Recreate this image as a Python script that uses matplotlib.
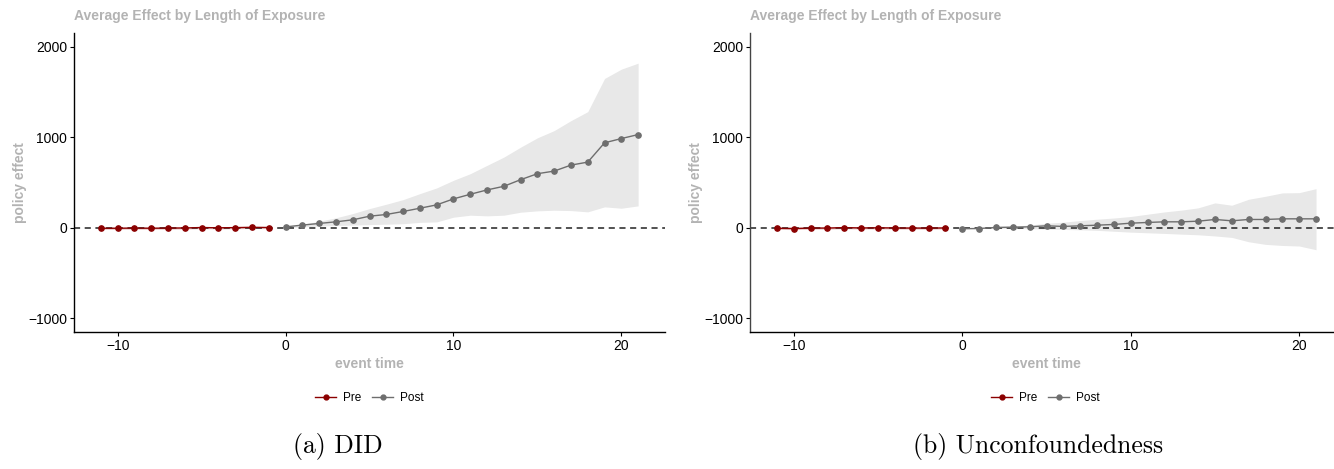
import numpy as np
import matplotlib
matplotlib.use("Agg")
import matplotlib.pyplot as plt
from matplotlib.lines import Line2D

plt.rcParams['font.family'] = ['Liberation Sans', 'DejaVu Sans']

# event times
pre_t = list(range(-11, 0))
post_t = list(range(0, 22))

# (a) DID
did_pre = [-5, -5, -3, -5, -3, -2, 3, 0, 2, 5, 3]
did_post = [10, 30, 48, 66, 88, 128, 147, 180, 216, 253, 319, 370, 418, 458,
            531, 597, 626, 692, 725, 938, 985, 1029]
did_hi = [12, 38, 72, 110, 157, 212, 260, 311, 377, 440, 524, 597, 689, 780,
          890, 993, 1073, 1183, 1282, 1648, 1751, 1817]
did_lo = [0, 10, 20, 25, 30, 35, 40, 45, 60, 65, 117, 139, 132, 139,
          172, 187, 194, 190, 176, 231, 216, 242]

# (b) Unconfoundedness
unc_pre = [-5, -8, -3, -3, 2, -2, 0, -2, -3, -3, -2]
unc_post = [-10, -8, 4, 7, 11, 22, 15, 22, 29, 37, 51, 59, 66, 66,
            73, 92, 77, 92, 92, 99, 99, 99]
unc_hi = [0, 5, 12, 20, 30, 50, 62, 80, 95, 108, 125, 150, 175, 195,
          220, 275, 249, 315, 348, 385, 388, 432]
unc_lo = [0, -3, -5, -8, -10, -15, -18, -22, -28, -38, -48, -55, -62, -70,
          -77, -90, -106, -154, -183, -195, -201, -242]

panels = [
    ("(a) DID", did_pre, did_post, did_hi, did_lo),
    ("(b) Unconfoundedness", unc_pre, unc_post, unc_hi, unc_lo),
]

W, H = 1334, 469
fig = plt.figure(figsize=(W / 100, H / 100), dpi=100)

red = '#8B0000'
grey = '#6E6E6E'
title_col = '#B3B3B3'

# axes boxes in pixels: left, right, top, bottom ; caption centre ; spine colour
boxes = [(74, 665, 33, 332, 338, 'black'), (750, 1343, 33, 332, 1038, '#444444')]

for (cap, pre, post, hi, lo), (l, r, t, b, capx, sc) in zip(panels, boxes):
    ax = fig.add_axes([l / W, 1 - b / H, (r - l) / W, (b - t) / H])
    ax.fill_between(post_t, lo, hi, color='#E8E8E8', lw=0, zorder=1)
    ax.fill_between(pre_t, np.array(pre) - 12, np.array(pre) + 12,
                    color='#E8C8C8', lw=0, zorder=1)
    ax.axhline(0, color='#222222', ls=(0, (4, 3)), lw=1.1, zorder=2)
    ax.plot(pre_t, pre, color=red, lw=1.0, marker='o', ms=3.8, zorder=3)
    ax.plot(post_t, post, color=grey, lw=1.0, marker='o', ms=3.8, zorder=3)
    ax.set_xlim(-12.6, 22.6)
    ax.set_ylim(-1150, 2150)
    ax.set_xticks([-10, 0, 10, 20])
    ax.set_yticks([-1000, 0, 1000, 2000])
    ax.set_xticklabels(['\u221210', '0', '10', '20'])
    ax.set_yticklabels(['\u22121000', '0', '1000', '2000'])
    ax.tick_params(labelsize=10, length=3, width=0.8, colors='black', pad=2)
    for s in ['top', 'right']:
        ax.spines[s].set_visible(False)
    ax.spines['bottom'].set_linewidth(1.0)
    ax.spines['left'].set_linewidth(1.0)
    ax.spines['left'].set_color(sc)
    ax.set_xlabel('event time', color=title_col, fontweight='bold',
                  fontsize=10, labelpad=3)
    ax.set_ylabel('policy effect', color=title_col, fontweight='bold',
                  fontsize=10, labelpad=1)
    fig.text(l / W, 1 - 16 / H, 'Average Effect by Length of Exposure',
             color=title_col, fontweight='bold', fontsize=10,
             ha='left', va='center')

    handles = [Line2D([], [], color=red, lw=1.0, marker='o', ms=3.5),
               Line2D([], [], color=grey, lw=1.0, marker='o', ms=3.5)]
    cx = (l + r) / 2 if r <= W else (l + 665 - 74 + l) / 2
    fig.legend(handles, ['Pre', 'Post'], loc='center',
               bbox_to_anchor=(cx / W, 1 - 398 / H), ncol=2, frameon=False,
               handlelength=1.8, handletextpad=0.6, columnspacing=0.9,
               prop={'size': 8.5})

    fig.text(capx / W, 1 - 446 / H, cap, family=['cmr10', 'DejaVu Serif'],
             fontsize=18.5, ha='center', va='center')

fig.savefig('out.png', dpi=100)
